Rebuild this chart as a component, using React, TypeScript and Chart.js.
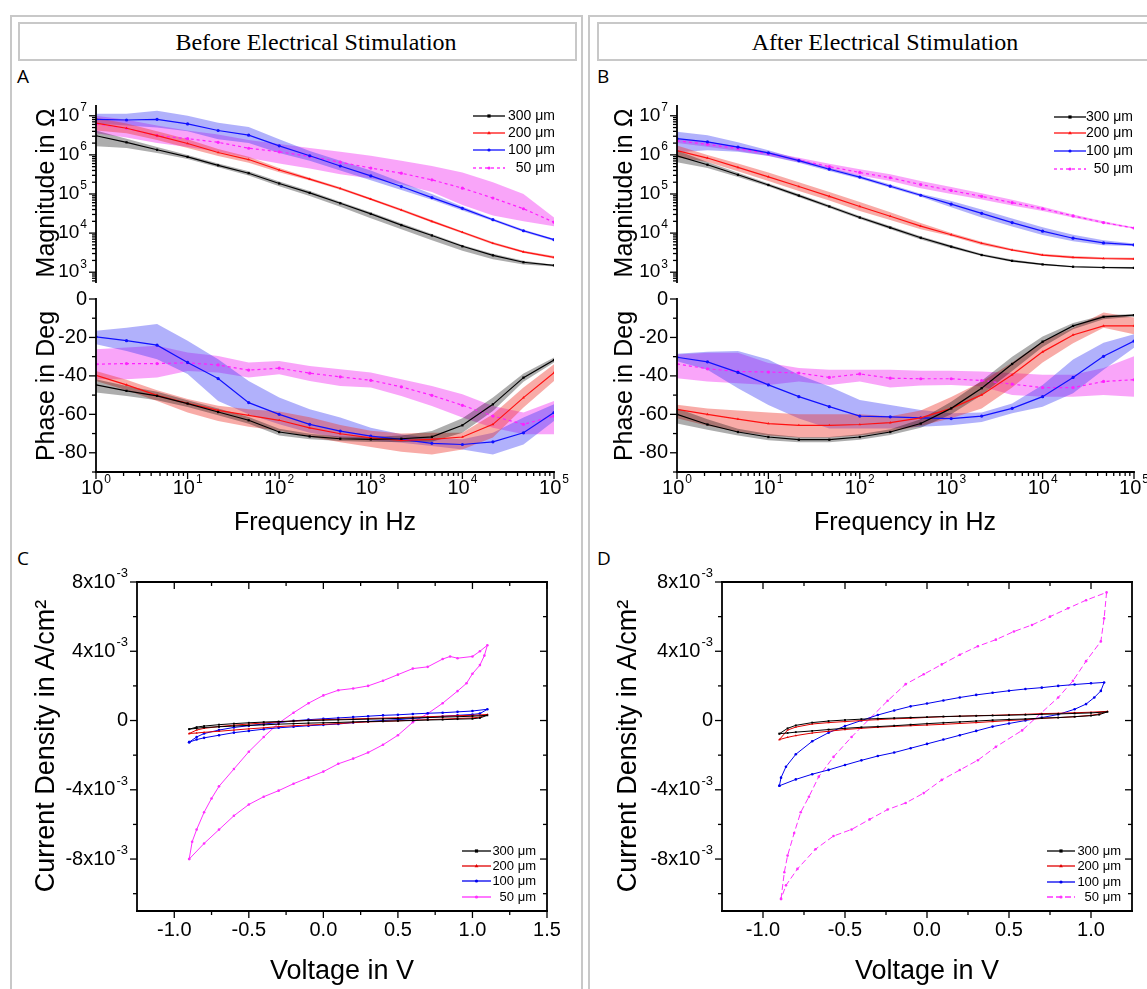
import React, { useEffect, useRef } from 'react';
import { Chart, registerables } from 'chart.js';

Chart.register(...registerables);

// ================= DATA =================
const FREQ_HZ = [1, 2.154, 4.642, 10, 21.54, 46.42, 100, 215.4, 464.2, 1000, 2154, 4642, 10000, 21540, 46420, 100000];
const SERIES_LABELS = ['300 μm', '200 μm', '100 μm', '50 μm'];

// ---- Panel A: magnitude (Ω), before stimulation ----
const A_MAG_300 = [3.09e6, 2.09e6, 1.35e6, 8.9e5, 5.4e5, 3.4e5, 1.86e5, 1.07e5, 5.8e4, 3.1e4, 1.6e4, 8.7e3, 4.6e3, 2.7e3, 1.8e3, 1.5e3];
const A_MAG_300_HI = [4.2e6, 2.6e6, 1.58e6, 1.0e6, 6.0e5, 3.8e5, 2.1e5, 1.2e5, 6.3e4, 3.4e4, 1.78e4, 9.5e3, 5.0e3, 2.95e3, 1.95e3, 1.55e3];
const A_MAG_300_LO = [1.66e6, 1.51e6, 1.12e6, 7.9e5, 4.8e5, 2.95e5, 1.58e5, 8.9e4, 4.7e4, 2.4e4, 1.26e4, 6.6e3, 3.55e3, 2.15e3, 1.58e3, 1.41e3];
const A_MAG_200 = [6.5e6, 4.8e6, 3.1e6, 1.95e6, 1.15e6, 7.6e5, 4.1e5, 2.4e5, 1.38e5, 7.4e4, 3.9e4, 2.0e4, 1.05e4, 5.5e3, 3.3e3, 2.4e3];
const A_MAG_200_HI = [8.9e6, 6.3e6, 4.0e6, 2.5e6, 1.41e6, 8.9e5, 4.6e5, 2.6e5, 1.48e5, 7.9e4, 4.2e4, 2.15e4, 1.12e4, 5.9e3, 3.55e3, 2.6e3];
const A_MAG_200_LO = [4.2e6, 3.55e6, 2.4e6, 1.51e6, 9.3e5, 6.3e5, 3.6e5, 2.2e5, 1.29e5, 6.9e4, 3.6e4, 1.86e4, 9.8e3, 5.1e3, 3.1e3, 2.24e3];
const A_MAG_100 = [8.1e6, 7.8e6, 8.1e6, 6.2e6, 4.2e6, 3.2e6, 1.7e6, 9.5e5, 5.2e5, 2.9e5, 1.55e5, 8.1e4, 4.3e4, 2.2e4, 1.15e4, 6.8e3];
const A_MAG_100_HI = [1.12e7, 1.12e7, 1.35e7, 1.0e7, 6.6e6, 5.2e6, 2.5e6, 1.26e6, 7.1e5, 4.0e5, 2.0e5, 1.0e5, 4.8e4, 2.35e4, 1.23e4, 7.2e3];
const A_MAG_100_LO = [6.3e6, 5.6e6, 5.0e6, 4.0e6, 2.5e6, 2.0e6, 1.12e6, 7.1e5, 4.0e5, 2.24e5, 1.26e5, 7.1e4, 3.8e4, 2.05e4, 1.07e4, 6.3e3];
const A_MAG_50 = [6.2e6, 4.8e6, 3.1e6, 2.6e6, 2.1e6, 1.48e6, 1.2e6, 9.1e5, 6.5e5, 4.6e5, 3.4e5, 2.3e5, 1.41e5, 7.9e4, 4.2e4, 1.9e4];
const A_MAG_50_HI = [1.0e7, 7.9e6, 5.6e6, 4.2e6, 3.3e6, 2.4e6, 1.9e6, 1.5e6, 1.2e6, 9.5e5, 7.1e5, 5.2e5, 3.55e5, 2.0e5, 1.0e5, 2.5e4];
const A_MAG_50_LO = [3.55e6, 2.8e6, 2.0e6, 1.58e6, 1.2e6, 8.3e5, 6.0e5, 4.5e5, 3.2e5, 2.5e5, 1.78e5, 1.12e5, 5.2e4, 2.8e4, 2.0e4, 1.5e4];

// ---- Panel A: phase (deg) ----
const A_PH_300 = [-44.7, -47.8, -50.4, -54.4, -58.8, -63.1, -69.2, -71.5, -72.7, -73.0, -72.7, -71.7, -65.7, -54.8, -40.9, -31.8];
const A_PH_300_HI = [-41.7, -45.2, -48.2, -52.7, -57.0, -61.4, -67.5, -70.1, -71.5, -71.8, -71.0, -68.7, -62.1, -51.3, -38.8, -30.4];
const A_PH_300_LO = [-48.7, -50.4, -52.7, -56.2, -60.5, -64.9, -71.0, -72.9, -73.9, -74.4, -74.4, -74.3, -69.6, -58.3, -43.0, -33.0];
const A_PH_200 = [-39.7, -44.7, -50.1, -54.3, -57.9, -60.5, -63.1, -67.0, -70.1, -72.2, -73.6, -73.0, -71.8, -65.2, -51.3, -38.3];
const A_PH_200_HI = [-37.4, -42.0, -47.5, -52.0, -55.5, -57.4, -58.5, -61.5, -65.5, -68.5, -70.0, -69.6, -69.6, -60.0, -46.0, -34.0];
const A_PH_200_LO = [-42.6, -47.5, -53.0, -59.0, -63.5, -66.5, -68.5, -71.5, -74.5, -77.0, -79.5, -80.9, -78.3, -72.0, -56.5, -42.6];
const A_PH_100 = [-19.7, -21.7, -24.0, -33.0, -41.4, -53.9, -60.0, -65.2, -68.7, -71.3, -73.0, -75.1, -75.7, -74.3, -69.6, -59.1];
const A_PH_100_HI = [-16.5, -15.0, -13.0, -21.7, -31.3, -42.6, -51.3, -57.4, -61.7, -67.0, -70.4, -72.2, -73.0, -69.6, -61.7, -54.8];
const A_PH_100_LO = [-23.5, -27.0, -31.3, -39.0, -53.0, -60.0, -65.2, -69.6, -72.2, -73.6, -74.8, -76.5, -78.3, -80.9, -75.7, -63.5];
const A_PH_50 = [-33.9, -33.6, -33.6, -33.2, -34.3, -37.0, -36.0, -38.6, -40.5, -42.3, -45.7, -50.1, -55.3, -60.9, -65.2, -60.9];
const A_PH_50_HI = [-26.1, -25.2, -24.3, -27.8, -29.6, -33.0, -32.2, -34.8, -36.5, -38.3, -41.7, -45.2, -49.6, -55.7, -59.1, -53.0];
const A_PH_50_LO = [-41.7, -41.7, -40.9, -37.4, -38.3, -40.9, -39.1, -42.6, -45.2, -46.1, -50.4, -55.7, -61.7, -67.0, -70.4, -70.4];

// ---- Panel B: magnitude (Ω), after stimulation ----
const B_MAG_300 = [9.5e5, 5.6e5, 3.1e5, 1.7e5, 9.1e4, 4.8e4, 2.5e4, 1.38e4, 7.6e3, 4.5e3, 2.75e3, 1.95e3, 1.58e3, 1.38e3, 1.32e3, 1.29e3];
const B_MAG_300_HI = [1.29e6, 6.6e5, 3.5e5, 1.86e5, 1.0e5, 5.2e4, 2.75e4, 1.51e4, 8.3e3, 4.9e3, 2.95e3, 2.1e3, 1.66e3, 1.45e3, 1.38e3, 1.35e3];
const B_MAG_300_LO = [6.5e5, 4.6e5, 2.7e5, 1.55e5, 8.3e4, 4.4e4, 2.3e4, 1.26e4, 6.9e3, 4.1e3, 2.6e3, 1.82e3, 1.51e3, 1.32e3, 1.26e3, 1.23e3];
const B_MAG_200 = [1.29e6, 8.3e5, 4.8e5, 2.75e5, 1.55e5, 8.7e4, 4.8e4, 2.7e4, 1.51e4, 9.1e3, 5.5e3, 3.7e3, 2.75e3, 2.4e3, 2.24e3, 2.19e3];
const B_MAG_200_HI = [1.74e6, 1.0e6, 6.0e5, 3.55e5, 2.0e5, 1.12e5, 6.2e4, 3.4e4, 1.82e4, 1.0e4, 6.0e3, 4.0e3, 2.95e3, 2.6e3, 2.4e3, 2.35e3];
const B_MAG_200_LO = [8.7e5, 6.6e5, 3.8e5, 2.15e5, 1.2e5, 6.8e4, 3.7e4, 2.15e4, 1.26e4, 8.3e3, 5.0e3, 3.5e3, 2.6e3, 2.24e3, 2.1e3, 2.05e3];
const B_MAG_100 = [2.6e6, 2.15e6, 1.58e6, 1.12e6, 7.1e5, 4.3e5, 2.7e5, 1.58e5, 9.3e4, 5.5e4, 3.2e4, 1.86e4, 1.12e4, 7.4e3, 5.6e3, 5.0e3];
const B_MAG_100_HI = [3.9e6, 3.16e6, 2.1e6, 1.32e6, 7.9e5, 4.7e5, 2.95e5, 1.74e5, 1.02e5, 6.6e4, 4.0e4, 2.35e4, 1.41e4, 9.1e3, 6.6e3, 5.4e3];
const B_MAG_100_LO = [1.17e6, 1.32e6, 1.2e6, 9.3e5, 6.3e5, 3.9e5, 2.45e5, 1.45e5, 8.5e4, 4.6e4, 2.5e4, 1.48e4, 8.9e3, 6.2e3, 4.9e3, 4.7e3];
const B_MAG_50 = [2.3e6, 1.86e6, 1.45e6, 1.07e6, 7.4e5, 5.0e5, 3.55e5, 2.6e5, 1.74e5, 1.23e5, 8.7e4, 6.0e4, 4.2e4, 2.75e4, 1.86e4, 1.35e4];
const B_MAG_50_HI = [2.6e6, 2.15e6, 1.66e6, 1.2e6, 8.5e5, 5.9e5, 4.3e5, 3.2e5, 2.15e5, 1.51e5, 1.05e5, 7.1e4, 4.7e4, 3.0e4, 2.0e4, 1.41e4];
const B_MAG_50_LO = [2.0e6, 1.62e6, 1.26e6, 9.5e5, 6.5e5, 4.3e5, 2.95e5, 2.15e5, 1.41e5, 1.0e5, 7.2e4, 5.1e4, 3.7e4, 2.5e4, 1.74e4, 1.29e4];

// ---- Panel B: phase (deg) ----
const B_PH_300 = [-60.0, -65.3, -69.2, -71.8, -73.2, -73.2, -71.8, -69.2, -64.8, -56.9, -46.4, -33.8, -22.2, -14.0, -9.3, -8.4];
const B_PH_300_HI = [-56.9, -62.5, -67.5, -70.2, -71.8, -71.8, -70.4, -67.8, -62.5, -53.5, -42.5, -30.0, -19.5, -12.5, -8.4, -7.8];
const B_PH_300_LO = [-64.8, -68.0, -71.0, -73.5, -74.5, -74.5, -73.2, -70.8, -67.0, -60.0, -50.0, -37.5, -25.0, -15.8, -10.5, -9.2];
const B_PH_200 = [-57.4, -60.0, -62.5, -64.8, -65.7, -65.7, -65.3, -64.3, -61.8, -56.9, -49.9, -39.4, -27.5, -18.7, -14.0, -14.0];
const B_PH_200_HI = [-55.0, -57.0, -58.0, -59.0, -60.0, -60.0, -60.0, -61.0, -58.0, -51.0, -43.0, -33.0, -22.0, -15.0, -7.0, -9.6];
const B_PH_200_LO = [-62.0, -66.0, -69.0, -71.0, -72.0, -72.0, -71.0, -69.0, -66.0, -62.0, -57.0, -46.0, -33.0, -23.0, -14.9, -18.4];
const B_PH_100 = [-30.3, -32.7, -38.2, -44.7, -50.8, -56.0, -60.9, -61.3, -61.8, -62.2, -60.9, -56.9, -50.8, -40.8, -29.8, -21.9];
const B_PH_100_HI = [-28.5, -27.5, -27.0, -31.5, -39.4, -45.5, -52.5, -55.2, -57.8, -59.5, -59.0, -54.3, -44.7, -31.5, -22.8, -18.4];
const B_PH_100_LO = [-32.4, -36.8, -46.4, -55.2, -62.2, -67.4, -67.4, -67.4, -66.5, -65.7, -64.0, -59.5, -56.0, -49.0, -36.8, -25.4];
const B_PH_50 = [-33.8, -36.3, -37.7, -38.0, -38.5, -40.8, -39.0, -41.2, -41.5, -41.5, -42.4, -44.3, -46.1, -46.1, -42.9, -42.0];
const B_PH_50_HI = [-28.9, -28.0, -28.0, -33.3, -35.9, -36.8, -36.8, -36.8, -37.3, -37.3, -37.7, -38.5, -39.4, -39.4, -35.9, -29.8];
const B_PH_50_LO = [-41.2, -42.9, -43.8, -44.7, -42.9, -44.7, -42.9, -46.1, -45.0, -44.7, -45.5, -49.9, -50.8, -50.8, -49.9, -50.8];

// ---- Panels C & D: cyclic voltammetry (V, mA/cm²) ----
const CV_V_LOOP = [-0.9, -0.85, -0.8, -0.7, -0.6, -0.5, -0.4, -0.3, -0.2, -0.1, 0, 0.1, 0.2, 0.3, 0.4, 0.5, 0.6, 0.7, 0.8, 0.9, 1.0, 1.1,
  1.05, 1.0, 0.9, 0.8, 0.7, 0.6, 0.5, 0.4, 0.3, 0.2, 0.1, 0, -0.1, -0.2, -0.3, -0.4, -0.5, -0.6, -0.7, -0.8, -0.85, -0.9];

const C_J_300 = [-0.5, -0.38, -0.32, -0.24, -0.18, -0.13, -0.09, -0.06, -0.03, 0, 0.02, 0.04, 0.06, 0.08, 0.1, 0.12, 0.15, 0.17, 0.2, 0.22, 0.25, 0.3,
  0.15, 0.1, 0.08, 0.05, 0.03, 0.0, -0.02, -0.04, -0.06, -0.08, -0.11, -0.13, -0.15, -0.18, -0.21, -0.25, -0.28, -0.32, -0.36, -0.4, -0.45, -0.5];
const C_J_200 = [-0.75, -0.55, -0.45, -0.35, -0.27, -0.2, -0.14, -0.08, -0.03, 0.01, 0.05, 0.07, 0.09, 0.12, 0.14, 0.16, 0.2, 0.22, 0.25, 0.28, 0.3, 0.35,
  0.2, 0.15, 0.12, 0.08, 0.05, 0.02, -0.02, -0.05, -0.08, -0.12, -0.18, -0.22, -0.26, -0.3, -0.35, -0.42, -0.48, -0.55, -0.62, -0.68, -0.72, -0.75];
const C_J_100 = [-1.25, -0.95, -0.75, -0.55, -0.4, -0.3, -0.2, -0.12, -0.02, 0.05, 0.1, 0.15, 0.2, 0.25, 0.3, 0.33, 0.38, 0.42, 0.45, 0.5, 0.55, 0.65,
  0.4, 0.35, 0.3, 0.24, 0.18, 0.12, 0.05, 0.0, -0.05, -0.12, -0.2, -0.25, -0.3, -0.36, -0.42, -0.5, -0.6, -0.7, -0.85, -1.0, -1.1, -1.25];
const C_V_50 = [-0.9, -0.88, -0.85, -0.8, -0.75, -0.7, -0.6, -0.5, -0.4, -0.3, -0.2, -0.1, 0.0, 0.1, 0.2, 0.3, 0.4, 0.5, 0.6, 0.7, 0.8, 0.85, 0.9, 1.0, 1.05, 1.1,
  1.08, 1.05, 1.0, 0.96, 0.9, 0.8, 0.7, 0.6, 0.5, 0.4, 0.3, 0.2, 0.1, 0.0, -0.1, -0.2, -0.3, -0.4, -0.5, -0.6, -0.7, -0.8, -0.9];
const C_J_50 = [-8.0, -7.0, -6.3, -5.3, -4.5, -3.8, -2.8, -1.8, -0.95, -0.15, 0.45, 1.0, 1.45, 1.75, 1.85, 2.0, 2.3, 2.65, 3.0, 3.1, 3.55, 3.7, 3.6, 3.7, 4.0, 4.35,
  3.75, 3.2, 2.7, 2.15, 1.7, 1.0, 0.4, -0.1, -0.85, -1.4, -1.85, -2.2, -2.5, -2.95, -3.3, -3.65, -4.05, -4.4, -4.85, -5.5, -6.3, -7.1, -8.0];

const D_J_300 = [-0.76, -0.45, -0.28, -0.12, -0.03, 0.03, 0.08, 0.11, 0.14, 0.17, 0.2, 0.23, 0.25, 0.27, 0.29, 0.31, 0.33, 0.36, 0.38, 0.41, 0.44, 0.5,
  0.34, 0.28, 0.22, 0.17, 0.14, 0.09, 0.06, 0.02, -0.03, -0.08, -0.13, -0.18, -0.24, -0.3, -0.35, -0.39, -0.45, -0.52, -0.6, -0.67, -0.72, -0.76];
const D_J_200 = [-1.1, -0.55, -0.38, -0.2, -0.12, -0.06, 0.0, 0.05, 0.1, 0.13, 0.18, 0.22, 0.25, 0.28, 0.3, 0.33, 0.36, 0.4, 0.42, 0.45, 0.48, 0.53,
  0.38, 0.3, 0.22, 0.17, 0.12, 0.05, 0.0, -0.06, -0.12, -0.17, -0.22, -0.26, -0.3, -0.34, -0.39, -0.45, -0.52, -0.62, -0.72, -0.87, -0.97, -1.1];
const D_V_100 = [-0.9, -0.89, -0.86, -0.8, -0.7, -0.6, -0.5, -0.4, -0.3, -0.2, -0.1, 0, 0.1, 0.2, 0.3, 0.4, 0.5, 0.6, 0.7, 0.8, 0.9, 1.0, 1.08,
  1.06, 1.02, 0.97, 0.9, 0.8, 0.7, 0.6, 0.5, 0.4, 0.3, 0.2, 0.1, 0, -0.1, -0.2, -0.3, -0.4, -0.5, -0.6, -0.7, -0.8, -0.9];
const D_J_100 = [-3.77, -3.3, -2.67, -1.95, -1.2, -0.7, -0.32, 0.0, 0.32, 0.58, 0.82, 0.98, 1.16, 1.33, 1.48, 1.6, 1.72, 1.82, 1.9, 2.0, 2.08, 2.15, 2.2,
  1.71, 1.33, 0.95, 0.65, 0.35, 0.17, 0.0, -0.17, -0.35, -0.6, -0.85, -1.1, -1.35, -1.6, -1.85, -2.05, -2.3, -2.57, -2.85, -3.1, -3.4, -3.77];
const D_V_50 = [-0.89, -0.87, -0.85, -0.81, -0.77, -0.72, -0.66, -0.57, -0.46, -0.35, -0.24, -0.13, -0.02, 0.09, 0.2, 0.31, 0.42, 0.53, 0.64, 0.75, 0.86, 0.97, 1.095,
  1.08, 1.06, 0.97, 0.89, 0.8, 0.69, 0.58, 0.42, 0.31, 0.2, 0.09, -0.02, -0.13, -0.24, -0.35, -0.46, -0.57, -0.68, -0.79, -0.86, -0.89];
const D_J_50 = [-10.3, -8.76, -7.8, -6.5, -5.3, -4.4, -3.24, -2.1, -0.95, 0.1, 1.14, 2.1, 2.67, 3.24, 3.8, 4.29, 4.67, 5.14, 5.52, 6.0, 6.48, 6.95, 7.4,
  5.9, 4.57, 3.43, 2.29, 1.33, 0.38, -0.57, -1.52, -2.29, -2.86, -3.43, -4.19, -4.76, -5.14, -5.71, -6.29, -6.67, -7.43, -8.57, -9.52, -10.3];

// ---- tick labels ----
const MAG_TICK_EXPONENTS = [3, 4, 5, 6, 7];
const FREQ_TICK_EXPONENTS = [0, 1, 2, 3, 4, 5];
const PHASE_TICKS = [0, -20, -40, -60, -80];
const PHASE_MINOR_TICKS = [-10, -30, -50, -70, -90];
const CV_Y_TICKS = [8e-3, 4e-3, 0, -4e-3, -8e-3];
const CV_Y_TICK_LABELS = [['8x10', '-3'], ['4x10', '-3'], ['0', ''], ['-4x10', '-3'], ['-8x10', '-3']];
const CV_Y_MINOR_TICKS = [6e-3, 2e-3, -2e-3, -6e-3, -10e-3];
const C_X_TICKS = [-1.0, -0.5, 0.0, 0.5, 1.0, 1.5];
const C_X_TICK_LABELS = ['-1.0', '-0.5', '0.0', '0.5', '1.0', '1.5'];
const C_X_MINOR_TICKS = [-0.75, -0.25, 0.25, 0.75, 1.25];
const D_X_TICKS = [-1.0, -0.5, 0.0, 0.5, 1.0];
const D_X_TICK_LABELS = ['-1.0', '-0.5', '0.0', '0.5', '1.0'];
const D_X_MINOR_TICKS = [-0.75, -0.25, 0.25, 0.75];

// ================= STYLE =================
const FONT = '"Liberation Sans", Arial, Helvetica, sans-serif';
const SERIES_STYLE = [
  { color: '#000000', band: 'rgba(0,0,0,0.32)', point: 'rect', dash: [] as number[] },
  { color: '#ff1010', band: 'rgba(238,55,45,0.42)', point: 'triangle', dash: [] as number[] },
  { color: '#1010ff', band: 'rgba(60,60,245,0.40)', point: 'circle', dash: [] as number[] },
  { color: '#ff20ff', band: 'rgba(240,40,240,0.42)', point: 'circle', dash: [3, 3] },
];
const CV_STYLE = [
  { color: '#000000', point: 'rect', dash: [] as number[] },
  { color: '#e00000', point: 'triangle', dash: [] as number[] },
  { color: '#0000ee', point: 'circle', dash: [] as number[] },
  { color: '#ff30ff', point: 'circle', dash: [] as number[] },
];
const MAG_MIN = 562;
const MAG_MAX = 1.778e7;

// ================= DRAW HELPERS =================
function drawSupLabel(ctx: any, base: string, exp: string, x: number, y: number, align: string, size: number, supSize: number) {
  ctx.textBaseline = 'middle';
  ctx.textAlign = 'left';
  ctx.font = `${size}px ${FONT}`;
  const wb = ctx.measureText(base).width;
  ctx.font = `${supSize}px ${FONT}`;
  const we = exp ? ctx.measureText(exp).width + 1 : 0;
  const total = wb + we;
  const x0 = align === 'right' ? x - total : x - total / 2;
  ctx.font = `${size}px ${FONT}`;
  ctx.fillText(base, x0, y);
  if (exp) {
    ctx.font = `${supSize}px ${FONT}`;
    ctx.fillText(exp, x0 + wb + 1, y - size * 0.42);
  }
}

function drawMarker(ctx: any, style: string, x: number, y: number, r: number, color: string) {
  ctx.fillStyle = color;
  ctx.beginPath();
  if (style === 'rect') ctx.rect(x - r, y - r, 2 * r, 2 * r);
  else if (style === 'triangle') {
    ctx.moveTo(x, y - r * 1.3);
    ctx.lineTo(x + r * 1.2, y + r * 0.8);
    ctx.lineTo(x - r * 1.2, y + r * 0.8);
    ctx.closePath();
  } else ctx.arc(x, y, r, 0, Math.PI * 2);
  ctx.fill();
}

function axesPlugin(spec: any) {
  return {
    id: 'paperAxes',
    afterDatasetsDraw(chart: any) {
      const { ctx, chartArea: a } = chart;
      const sx = chart.scales.x;
      const sy = chart.scales.y;
      ctx.save();
      ctx.strokeStyle = '#000';
      ctx.fillStyle = '#000';
      const seg = (x1: number, y1: number, x2: number, y2: number) => {
        ctx.beginPath();
        ctx.moveTo(x1, y1);
        ctx.lineTo(x2, y2);
        ctx.stroke();
      };
      ctx.lineWidth = spec.lw;
      ctx.lineCap = 'square';
      if (spec.left) seg(a.left, a.top, a.left, a.bottom);
      if (spec.right) seg(a.right, a.top, a.right, a.bottom);
      if (spec.top) seg(a.left, a.top, a.right, a.top);
      if (spec.bottom) seg(a.left, a.bottom, a.right, a.bottom);
      ctx.lineCap = 'butt';
      ctx.lineWidth = spec.tickW;
      const vTicks = (side: any, x: number, outSign: number) => {
        const d = side.inward ? -outSign : outSign;
        side.major.forEach((v: number) => { const y = sy.getPixelForValue(v); seg(x, y, x + d * spec.majorLen, y); });
        side.minor.forEach((v: number) => { const y = sy.getPixelForValue(v); seg(x, y, x + d * spec.minorLen, y); });
      };
      const hTicks = (side: any, y: number, outSign: number) => {
        const d = side.inward ? -outSign : outSign;
        side.major.forEach((v: number) => { const x = sx.getPixelForValue(v); seg(x, y, x, y + d * spec.majorLen); });
        side.minor.forEach((v: number) => { const x = sx.getPixelForValue(v); seg(x, y, x, y + d * spec.minorLen); });
      };
      if (spec.left) vTicks(spec.left, a.left, -1);
      if (spec.right) vTicks(spec.right, a.right, 1);
      if (spec.top) hTicks(spec.top, a.top, -1);
      if (spec.bottom) hTicks(spec.bottom, a.bottom, 1);
      if (spec.left && spec.left.labels) {
        spec.left.major.forEach((v: number, i: number) => {
          const [b, e] = spec.left.labels[i];
          drawSupLabel(ctx, b, e, a.left - spec.gapY, sy.getPixelForValue(v), 'right', spec.font, spec.supFont);
        });
      }
      if (spec.bottom && spec.bottom.labels) {
        spec.bottom.major.forEach((v: number, i: number) => {
          const [b, e] = spec.bottom.labels[i];
          drawSupLabel(ctx, b, e, sx.getPixelForValue(v), a.bottom + spec.gapX, 'center', spec.font, spec.supFont);
        });
      }
      ctx.restore();
    },
  };
}

function legendPlugin(spec: any) {
  return {
    id: 'paperLegend',
    afterDraw(chart: any) {
      const ctx = chart.ctx;
      ctx.save();
      spec.items.forEach((it: any, i: number) => {
        const y = spec.ys[i];
        ctx.strokeStyle = it.color;
        ctx.lineWidth = 1.3;
        ctx.setLineDash(it.dash);
        ctx.beginPath();
        ctx.moveTo(spec.x1, y);
        ctx.lineTo(spec.x2, y);
        ctx.stroke();
        ctx.setLineDash([]);
        drawMarker(ctx, it.point, (spec.x1 + spec.x2) / 2, y, 1.6, it.color);
        ctx.fillStyle = '#000';
        ctx.font = `${spec.font}px ${FONT}`;
        ctx.textAlign = 'right';
        ctx.textBaseline = 'middle';
        ctx.fillText(it.label, spec.xr, y);
      });
      ctx.restore();
    },
  };
}

// ================= CONFIG BUILDERS =================
function logMinorTicks(fromExp: number, toExp: number, min: number, max: number) {
  const out: number[] = [];
  for (let e = fromExp; e <= toExp; e++) {
    for (let m = 2; m <= 9; m++) {
      const v = m * Math.pow(10, e);
      if (v > min && v < max) out.push(v);
    }
  }
  return out;
}

function bodeDatasets(series: any[]) {
  const lines = series.map((s, i) => {
    const st = SERIES_STYLE[i];
    return {
      label: SERIES_LABELS[i],
      data: FREQ_HZ.map((f, k) => ({ x: f, y: s.mean[k] })),
      borderColor: st.color,
      backgroundColor: st.color,
      borderWidth: 1.2,
      borderDash: st.dash,
      pointRadius: 1.6,
      pointStyle: st.point,
      pointBorderWidth: 0,
      pointBackgroundColor: st.color,
      fill: false,
      order: 0,
    };
  });
  const bands: any[] = [];
  series.forEach((s, i) => {
    const st = SERIES_STYLE[i];
    bands.push({
      label: SERIES_LABELS[i] + ' hi',
      data: FREQ_HZ.map((f, k) => ({ x: f, y: s.hi[k] })),
      borderColor: 'rgba(0,0,0,0)', borderWidth: 0, pointRadius: 0, fill: false, order: 1,
    });
    bands.push({
      label: SERIES_LABELS[i] + ' lo',
      data: FREQ_HZ.map((f, k) => ({ x: f, y: s.lo[k] })),
      borderColor: 'rgba(0,0,0,0)', borderWidth: 0, pointRadius: 0, fill: '-1', backgroundColor: st.band, order: 1,
    });
  });
  return [...lines, ...bands];
}

function bodeLegendItems() {
  return SERIES_LABELS.map((l, i) => ({ label: l, color: SERIES_STYLE[i].color, dash: SERIES_STYLE[i].dash, point: SERIES_STYLE[i].point }));
}

function baseOptions(padding: any, xScale: any, yScale: any) {
  return {
    animation: false,
    responsive: false,
    maintainAspectRatio: false,
    events: [],
    layout: { padding },
    plugins: { legend: { display: false }, tooltip: { enabled: false }, title: { display: false } },
    scales: { x: xScale, y: yScale },
    elements: { line: { tension: 0 } },
  };
}

function magConfig(series: any[], padding: any, legend: any) {
  return {
    type: 'line',
    data: { datasets: bodeDatasets(series) },
    options: baseOptions(padding,
      { type: 'logarithmic', min: 1, max: 1e5, display: false },
      { type: 'logarithmic', min: MAG_MIN, max: MAG_MAX, display: false }),
    plugins: [
      axesPlugin({
        lw: 1.8, tickW: 1.3, majorLen: 7, minorLen: 4, font: 19, supFont: 12, gapY: 9, gapX: 15,
        left: {
          major: MAG_TICK_EXPONENTS.map((e) => Math.pow(10, e)),
          minor: logMinorTicks(2, 7, MAG_MIN, MAG_MAX),
          labels: MAG_TICK_EXPONENTS.map((e) => ['10', String(e)]),
        },
      }),
      legendPlugin({ ...legend, font: 14, items: bodeLegendItems() }),
    ],
  };
}

function phaseConfig(series: any[], padding: any) {
  return {
    type: 'line',
    data: { datasets: bodeDatasets(series) },
    options: baseOptions(padding,
      { type: 'logarithmic', min: 1, max: 1e5, display: false },
      { type: 'linear', min: -90, max: 0, display: false }),
    plugins: [
      axesPlugin({
        lw: 1.8, tickW: 1.3, majorLen: 7, minorLen: 4, font: 20, supFont: 12, gapY: 9, gapX: 16,
        left: { major: PHASE_TICKS, minor: PHASE_MINOR_TICKS, labels: PHASE_TICKS.map((v) => [String(v), '']) },
        bottom: {
          major: FREQ_TICK_EXPONENTS.map((e) => Math.pow(10, e)),
          minor: logMinorTicks(0, 4, 1, 1e5),
          labels: FREQ_TICK_EXPONENTS.map((e) => ['10', String(e)]),
        },
      }),
    ],
  };
}

function cvConfig(loops: any[], xMax: number, xTicks: number[], xLabels: string[], xMinor: number[], padding: any, legend: any, magentaDash: number[]) {
  const styles = CV_STYLE.map((s, i) => (i === 3 ? { ...s, dash: magentaDash } : s));
  const datasets = loops.map((lp, i) => ({
    label: SERIES_LABELS[i],
    data: lp.v.map((v: number, k: number) => ({ x: v, y: lp.j[k] * 1e-3 })),
    showLine: true,
    borderColor: styles[i].color,
    backgroundColor: styles[i].color,
    borderWidth: 1,
    borderDash: styles[i].dash,
    pointRadius: 1.3,
    pointStyle: styles[i].point,
    pointBorderWidth: 0,
    pointBackgroundColor: styles[i].color,
    fill: false,
    order: i === 3 ? 1 : 0,
  }));
  return {
    type: 'scatter',
    data: { datasets },
    options: baseOptions(padding,
      { type: 'linear', min: -1.25, max: xMax, display: false },
      { type: 'linear', min: -11e-3, max: 8e-3, display: false }),
    plugins: [
      axesPlugin({
        lw: 1.8, tickW: 1.3, majorLen: 7, minorLen: 4, font: 20, supFont: 13, gapY: 9, gapX: 19,
        left: { major: CV_Y_TICKS, minor: CV_Y_MINOR_TICKS, labels: CV_Y_TICK_LABELS },
        right: { major: CV_Y_TICKS, minor: CV_Y_MINOR_TICKS, inward: true },
        top: { major: xTicks, minor: xMinor, inward: true },
        bottom: { major: xTicks, minor: xMinor, labels: xLabels.map((l) => [l, '']) },
      }),
      legendPlugin({
        ...legend, font: 13,
        items: SERIES_LABELS.map((l, i) => ({ label: l, color: styles[i].color, dash: styles[i].dash, point: styles[i].point })),
      }),
    ],
  };
}

// ================= COMPONENTS =================
function ChartCanvas(props: any) {
  const ref = useRef<HTMLCanvasElement | null>(null);
  const { left, top, width, height, build } = props;
  useEffect(() => {
    const chart = new Chart(ref.current as any, build());
    return () => chart.destroy();
  }, []);
  return <canvas ref={ref} width={width} height={height} style={{ position: 'absolute', left, top, width, height }} />;
}

function Txt(props: any) {
  const { x, y, size, rotate, family, children } = props;
  return (
    <div style={{
      position: 'absolute', left: x, top: y,
      transform: `translate(-50%, -50%)${rotate ? ' rotate(-90deg)' : ''}`,
      fontSize: size, fontFamily: family || FONT, whiteSpace: 'nowrap', lineHeight: 1, color: '#000',
    }}>{children}</div>
  );
}

const A_MAG_SERIES = [
  { mean: A_MAG_300, hi: A_MAG_300_HI, lo: A_MAG_300_LO },
  { mean: A_MAG_200, hi: A_MAG_200_HI, lo: A_MAG_200_LO },
  { mean: A_MAG_100, hi: A_MAG_100_HI, lo: A_MAG_100_LO },
  { mean: A_MAG_50, hi: A_MAG_50_HI, lo: A_MAG_50_LO },
];
const A_PH_SERIES = [
  { mean: A_PH_300, hi: A_PH_300_HI, lo: A_PH_300_LO },
  { mean: A_PH_200, hi: A_PH_200_HI, lo: A_PH_200_LO },
  { mean: A_PH_100, hi: A_PH_100_HI, lo: A_PH_100_LO },
  { mean: A_PH_50, hi: A_PH_50_HI, lo: A_PH_50_LO },
];
const B_MAG_SERIES = [
  { mean: B_MAG_300, hi: B_MAG_300_HI, lo: B_MAG_300_LO },
  { mean: B_MAG_200, hi: B_MAG_200_HI, lo: B_MAG_200_LO },
  { mean: B_MAG_100, hi: B_MAG_100_HI, lo: B_MAG_100_LO },
  { mean: B_MAG_50, hi: B_MAG_50_HI, lo: B_MAG_50_LO },
];
const B_PH_SERIES = [
  { mean: B_PH_300, hi: B_PH_300_HI, lo: B_PH_300_LO },
  { mean: B_PH_200, hi: B_PH_200_HI, lo: B_PH_200_LO },
  { mean: B_PH_100, hi: B_PH_100_HI, lo: B_PH_100_LO },
  { mean: B_PH_50, hi: B_PH_50_HI, lo: B_PH_50_LO },
];
const C_LOOPS = [
  { v: CV_V_LOOP, j: C_J_300 },
  { v: CV_V_LOOP, j: C_J_200 },
  { v: CV_V_LOOP, j: C_J_100 },
  { v: C_V_50, j: C_J_50 },
];
const D_LOOPS = [
  { v: CV_V_LOOP, j: D_J_300 },
  { v: CV_V_LOOP, j: D_J_200 },
  { v: D_V_100, j: D_J_100 },
  { v: D_V_50, j: D_J_50 },
];

export default function App() {
  const frame = '2px solid #c8c8c8';
  const serif = '"Liberation Serif", "Times New Roman", serif';
  const letterFont = '"Open Sans", "Liberation Sans", sans-serif';
  return (
    <div style={{ position: 'fixed', left: 0, top: 0, width: 1147, height: 989, background: '#fff', overflow: 'hidden' }}>
      <div style={{ position: 'absolute', left: 10, top: 15, width: 573, height: 1000, border: frame, boxSizing: 'border-box' }} />
      <div style={{ position: 'absolute', left: 588, top: 15, width: 600, height: 1000, border: frame, boxSizing: 'border-box' }} />
      <div style={{ position: 'absolute', left: 18, top: 22, width: 559, height: 39, border: frame, boxSizing: 'border-box' }} />
      <div style={{ position: 'absolute', left: 597, top: 22, width: 576, height: 39, border: frame, boxSizing: 'border-box' }} />
      <Txt x={316} y={42} size={24} family={serif}>Before Electrical Stimulation</Txt>
      <Txt x={885} y={42} size={24} family={serif}>After Electrical Stimulation</Txt>
      <div style={{ position: 'absolute', left: 17, top: 63, fontSize: 19, fontFamily: letterFont }}>A</div>
      <div style={{ position: 'absolute', left: 597, top: 63, fontSize: 19, fontFamily: letterFont }}>B</div>
      <div style={{ position: 'absolute', left: 17, top: 545, fontSize: 19, fontFamily: letterFont }}>C</div>
      <div style={{ position: 'absolute', left: 597, top: 545, fontSize: 19, fontFamily: letterFont }}>D</div>

      <ChartCanvas left={0} top={90} width={580} height={200}
        build={() => magConfig(A_MAG_SERIES, { left: 96, right: 26, top: 16, bottom: 8 }, { x1: 473, x2: 505, xr: 555, ys: [26, 43, 60, 78] })} />
      <ChartCanvas left={0} top={285} width={580} height={260}
        build={() => phaseConfig(A_PH_SERIES, { left: 96, right: 26, top: 14, bottom: 73 })} />
      <ChartCanvas left={580} top={90} width={567} height={200}
        build={() => magConfig(B_MAG_SERIES, { left: 97, right: 13, top: 16, bottom: 8 }, { x1: 474, x2: 506, xr: 553, ys: [27, 43, 61, 79] })} />
      <ChartCanvas left={580} top={285} width={567} height={260}
        build={() => phaseConfig(B_PH_SERIES, { left: 97, right: 13, top: 14, bottom: 73 })} />
      <ChartCanvas left={0} top={560} width={585} height={429}
        build={() => cvConfig(C_LOOPS, 1.5, C_X_TICKS, C_X_TICK_LABELS, C_X_MINOR_TICKS, { left: 137, right: 38, top: 22, bottom: 78 },
          { x1: 462, x2: 491, xr: 536, ys: [291, 306, 321, 337] }, [])} />
      <ChartCanvas left={585} top={560} width={562} height={429}
        build={() => cvConfig(D_LOOPS, 1.25, D_X_TICKS, D_X_TICK_LABELS, D_X_MINOR_TICKS, { left: 137, right: 15, top: 22, bottom: 78 },
          { x1: 462, x2: 490, xr: 536, ys: [291, 306, 322, 337] }, [6, 3])} />

      <Txt x={45} y={193} size={25} rotate>Magnitude in Ω</Txt>
      <Txt x={45} y={386} size={25} rotate>Phase in Deg</Txt>
      <Txt x={325} y={521} size={25}>Frequency in Hz</Txt>
      <Txt x={623} y={193} size={25} rotate>Magnitude in Ω</Txt>
      <Txt x={623} y={386} size={25} rotate>Phase in Deg</Txt>
      <Txt x={905} y={521} size={25}>Frequency in Hz</Txt>
      <Txt x={45} y={746} size={27} rotate>Current Density in A/cm²</Txt>
      <Txt x={342} y={970} size={27}>Voltage in V</Txt>
      <Txt x={627} y={746} size={27} rotate>Current Density in A/cm²</Txt>
      <Txt x={927} y={970} size={27}>Voltage in V</Txt>
    </div>
  );
}
